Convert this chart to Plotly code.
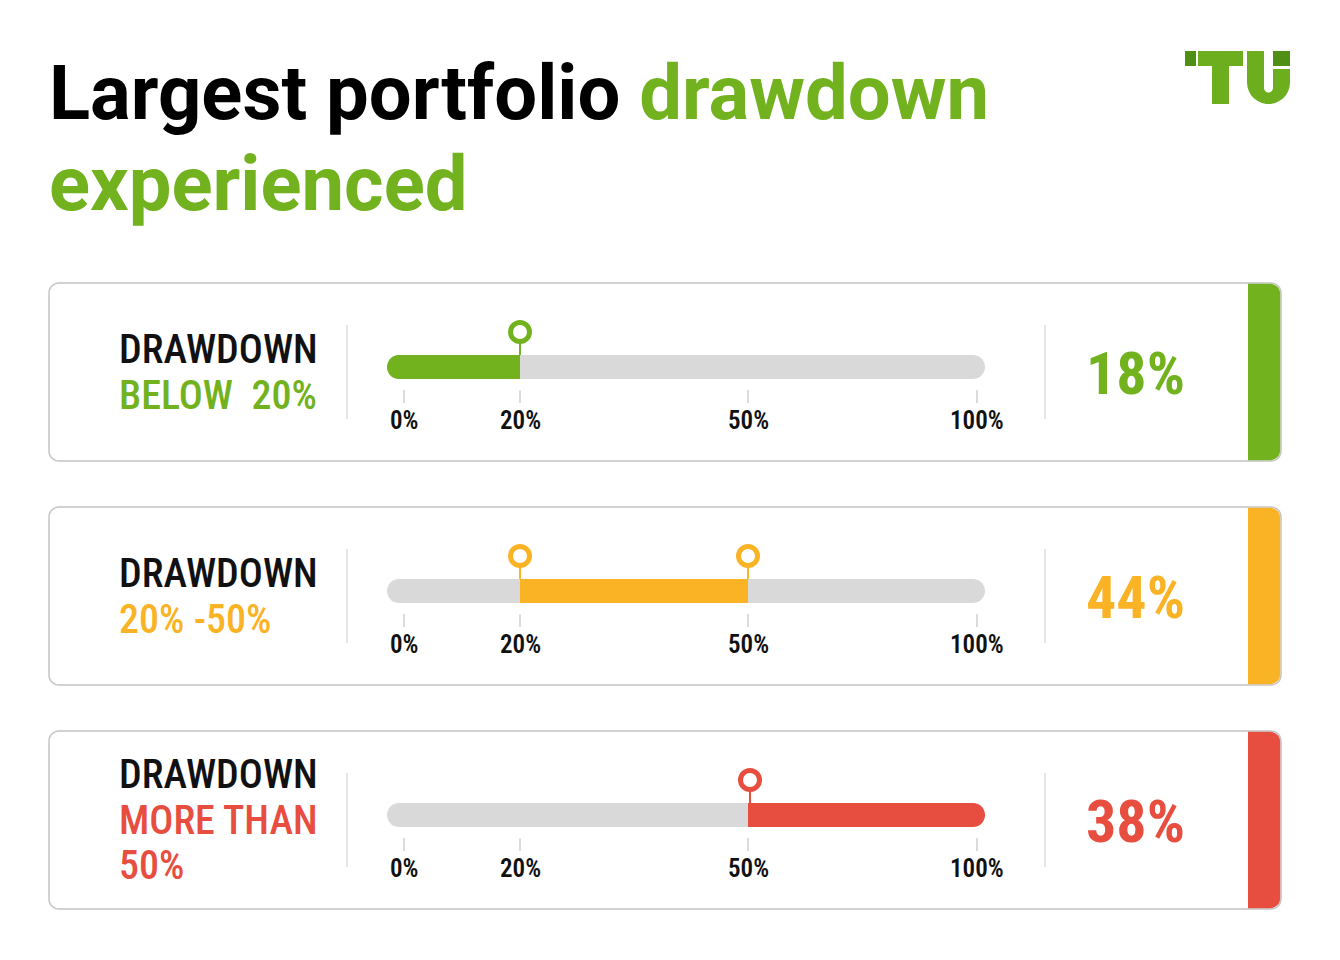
import numpy as np
import plotly.graph_objects as go

# ---------------- data ----------------
title_black = "Largest portfolio "
title_green1 = "drawdown"
title_green2 = "experienced"
label_top = ["DRAWDOWN", "DRAWDOWN", "DRAWDOWN"]
label_rest = [["BELOW\u00a0\u00a020%"], ["20% -50%"], ["MORE THAN", "50%"]]
range_low = [0, 20, 50]
range_high = [20, 50, 100]
shares = [18, 44, 38]
tick_values = [0, 20, 50, 100]
tick_labels = ["0%", "20%", "50%", "100%"]

# ---------------- style ----------------
W, H = 1340, 960
GREEN, ORANGE, RED = "#72b21e", "#f9b325", "#e84e3f"
colors = [GREEN, ORANGE, RED]
GRAY_BAR = "#d9d9d9"
BORDER = "#c4c4c4"
COND = "Roboto Condensed, Liberation Sans Narrow, DejaVu Sans Condensed, Roboto, sans-serif"
card_top = [283, 507, 731]
card_h = 178
card_x0, card_x1 = 49, 1281
strip_w = 33
bar_x0, bar_x1 = 387, 985
bar_dy, bar_h = 72, 24
tick_px = [404, 520, 748, 977]  # custom (piecewise) scale positions


def scale(v):
    return float(np.interp(v, tick_values, tick_px))


def arc(cx, cy, r, a0, a1, n=10):
    return " ".join(f"L{cx + r*np.cos(a):.2f},{cy + r*np.sin(a):.2f}" for a in np.linspace(a0, a1, n))


def rrect(x0, y0, x1, y1, rtl=0, rtr=0, rbr=0, rbl=0):
    p = f"M{x0 + rtl},{y0} L{x1 - rtr},{y0} "
    if rtr:
        p += arc(x1 - rtr, y0 + rtr, rtr, -np.pi/2, 0) + " "
    p += f"L{x1},{y1 - rbr} "
    if rbr:
        p += arc(x1 - rbr, y1 - rbr, rbr, 0, np.pi/2) + " "
    p += f"L{x0 + rbl},{y1} "
    if rbl:
        p += arc(x0 + rbl, y1 - rbl, rbl, np.pi/2, np.pi) + " "
    p += f"L{x0},{y0 + rtl} "
    if rtl:
        p += arc(x0 + rtl, y0 + rtl, rtl, np.pi, 1.5*np.pi) + " "
    return p + "Z"


fig = go.Figure()
shapes = []
annotations = []

for i, top in enumerate(card_top):
    c = colors[i]
    bot = top + card_h
    # card
    shapes.append(dict(type="path", path=rrect(card_x0, top, card_x1, bot, 10, 10, 10, 10),
                       line=dict(color=BORDER, width=1.5), fillcolor="white", layer="below"))
    shapes.append(dict(type="path", path=rrect(card_x1 - strip_w, top + 0.8, card_x1 - 0.8, bot - 0.8, 0, 10, 10, 0),
                       line=dict(width=0), fillcolor=c, layer="below"))
    # separators
    for sx in (347, 1045):
        shapes.append(dict(type="line", x0=sx, x1=sx, y0=top + 42, y1=top + 136,
                           line=dict(color="#d6d6d6", width=1.2)))
    # gray bar
    by0 = top + bar_dy
    by1 = by0 + bar_h
    r = bar_h / 2
    shapes.append(dict(type="path", path=rrect(bar_x0, by0, bar_x1, by1, r, r, r, r),
                       line=dict(width=0), fillcolor=GRAY_BAR))
    # coloured range
    lo, hi = range_low[i], range_high[i]
    xa = bar_x0 if lo == tick_values[0] else scale(lo)
    xb = bar_x1 if hi == tick_values[-1] else scale(hi)
    rl = r if lo == tick_values[0] else 0
    rr = r if hi == tick_values[-1] else 0
    shapes.append(dict(type="path", path=rrect(xa, by0, xb, by1, rl, rr, rr, rl),
                       line=dict(width=0), fillcolor=c))
    # ticks
    for tv, tl in zip(tick_values, tick_labels):
        tx = scale(tv)
        shapes.append(dict(type="line", x0=tx, x1=tx, y0=by1 + 11, y1=by1 + 24,
                           line=dict(color="#d0d0d0", width=1.5)))
        annotations.append(dict(x=tx, y=top + 137, text=tl, showarrow=False,
                                xanchor="center", yanchor="middle",
                                font=dict(family=COND, size=25, color="#111111", weight=600)))
    # markers on interior bounds
    mk = [v for v in (lo, hi) if v not in (tick_values[0], tick_values[-1])]
    for v in mk:
        mx = scale(v) + (2 if i == 2 else 0)
        shapes.append(dict(type="line", x0=mx, x1=mx, y0=top + 58, y1=by0,
                           line=dict(color=c, width=2)))
    fig.add_trace(go.Scatter(
        x=[scale(v) + (2 if i == 2 else 0) for v in mk], y=[top + 49] * len(mk), mode="markers",
        marker=dict(symbol="circle", size=19, color="white", line=dict(color=c, width=5)),
        hoverinfo="skip", showlegend=False))
    # left labels
    lines = [(label_top[i], "#111111")] + [(t, c) for t in label_rest[i]]
    if len(lines) == 2:
        ys = [top + 66, top + 112]
    else:
        ys = [top + 43, top + 89, top + 134]
    for (t, col), yy in zip(lines, ys):
        annotations.append(dict(x=117, y=yy, text=t, showarrow=False, xanchor="left", yanchor="middle",
                                font=dict(family=COND, size=40, color=col, weight=500)))
    # share value
    annotations.append(dict(x=1135, y=top + 90, text=f"<b>{shares[i]}%</b>", showarrow=False,
                            xanchor="center", yanchor="middle",
                            font=dict(family=COND, size=60, color=c)))

# title
annotations.append(dict(x=47, y=93, text=f"<b>{title_black}<span style='color:{GREEN}'>{title_green1}</span></b>",
                        showarrow=False, xanchor="left", yanchor="middle",
                        font=dict(family="Roboto, sans-serif", size=76, color="#000000")))
annotations.append(dict(x=47, y=184, text=f"<b>{title_green2}</b>", showarrow=False, xanchor="left",
                        yanchor="middle", font=dict(family="Roboto, sans-serif", size=76, color=GREEN)))

# logo "TU"
LG, DG = "#6cae1e", "#4f8f13"
u_path = ("M1247,51 L1264,51 L1264,88 "
          + arc(1268.5, 88, 4.5, np.pi, 0, 8)
          + " L1273,69 L1290,69 L1290,83 "
          + arc(1268.5, 82.5, 21.5, 0, np.pi, 16)
          + " Z")
shapes += [
    dict(type="rect", x0=1185, x1=1196, y0=51, y1=66, fillcolor=DG, line=dict(width=0)),
    dict(type="rect", x0=1198, x1=1243, y0=51, y1=66, fillcolor=LG, line=dict(width=0)),
    dict(type="rect", x0=1212, x1=1229, y0=51, y1=104, fillcolor=LG, line=dict(width=0)),
    dict(type="path", path=u_path, fillcolor=LG, line=dict(width=0)),
    dict(type="rect", x0=1273, x1=1290, y0=51, y1=66, fillcolor=DG, line=dict(width=0)),
]

fig.update_layout(
    width=W, height=H, margin=dict(l=0, r=0, t=0, b=0),
    paper_bgcolor="white", plot_bgcolor="white",
    xaxis=dict(range=[0, W], visible=False, fixedrange=True),
    yaxis=dict(range=[H, 0], visible=False, fixedrange=True),
    shapes=shapes, annotations=annotations, showlegend=False,
)
fig.write_html("out.html")
